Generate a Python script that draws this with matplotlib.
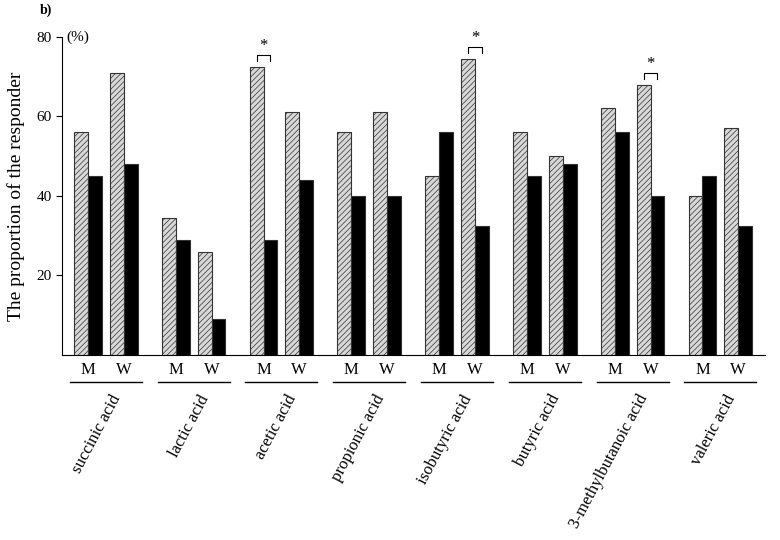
import numpy as np
import matplotlib.pyplot as plt
import matplotlib.transforms as mtransforms

plt.rcParams['font.family'] = 'Liberation Serif'
plt.rcParams['hatch.color'] = '#909090'
plt.rcParams['hatch.linewidth'] = 0.5

categories = ['succinic acid', 'lactic acid', 'acetic acid', 'propionic acid',
              'isobutyric acid', 'butyric acid', '3-methylbutanoic acid', 'valeric acid']
m_gray = [56, 34.5, 72.5, 56, 45, 56, 62, 40]
m_black = [45, 29, 29, 40, 56, 45, 56, 45]
w_gray = [71, 26, 61, 61, 74.5, 50, 68, 57]
w_black = [48, 9, 44, 40, 32.5, 48, 40, 32.5]
# (group index, 'M' or 'W') with significant difference
signif = [(2, 'M'), (4, 'W'), (6, 'W')]

pitch = 6.3
wgap = 2.57
x0 = np.arange(len(categories)) * pitch

fig = plt.figure(figsize=(7.8, 5.4), dpi=100)
ax = fig.add_axes([0.0795, 0.3426, 0.901, 0.589])

kw = dict(width=1.0, align='edge', edgecolor='#333333', linewidth=0.8)
ax.bar(x0, m_gray, color='#d8d8d8', hatch='//////', **kw)
ax.bar(x0 + 1, m_black, color='black', **kw)
ax.bar(x0 + wgap, w_gray, color='#d8d8d8', hatch='//////', **kw)
ax.bar(x0 + wgap + 1, w_black, color='black', **kw)

ax.set_xlim(-0.86, x0[-1] + wgap + 2 + 0.9)
ax.set_ylim(0, 80)
ax.set_yticks([20, 40, 60, 80])
ax.set_xticks([])
ax.spines['top'].set_visible(False)
ax.spines['right'].set_visible(False)
ax.tick_params(axis='y', direction='out', length=4, labelsize=11)
ax.set_ylabel('The proportion of the responder', fontsize=14, labelpad=8)

for gi, sex in signif:
    xs = x0[gi] + (0 if sex == 'M' else wgap)
    h = max(m_gray[gi], w_gray[gi]) + 3 if sex == 'W' else m_gray[gi] + 3
    ax.plot([xs + 0.5, xs + 0.5, xs + 1.5, xs + 1.5], [h - 1.5, h, h, h - 1.5],
            color='black', lw=0.8)
    ax.text(xs + 1.0, h + 0.3, '*', ha='center', va='bottom', fontsize=12)

trans = mtransforms.blended_transform_factory(ax.transData, fig.transFigure)
for i, cat in enumerate(categories):
    ax.text(x0[i] + 1, 1 - 370 / 540, 'M', transform=trans, ha='center',
            va='center', fontsize=12)
    ax.text(x0[i] + wgap + 1, 1 - 370 / 540, 'W', transform=trans, ha='center',
            va='center', fontsize=12)
    ax.plot([x0[i] - 0.3, x0[i] + wgap + 2.3], [1 - 382 / 540] * 2,
            transform=trans, color='black', lw=1, clip_on=False)
    ax.text(x0[i] + wgap / 2 + 1.3, 1 - 392 / 540, cat, transform=trans,
            ha='right', va='top', rotation=62, rotation_mode='anchor', fontsize=12)

fig.text(62 / 780 + 0.005, 1 - 37 / 540, '(%)', ha='left', va='center', fontsize=11)
fig.text(40 / 780, 1 - 10 / 540, 'b)', ha='left', va='center', fontsize=10,
         fontweight='bold')

fig.savefig('out.png', dpi=100)
